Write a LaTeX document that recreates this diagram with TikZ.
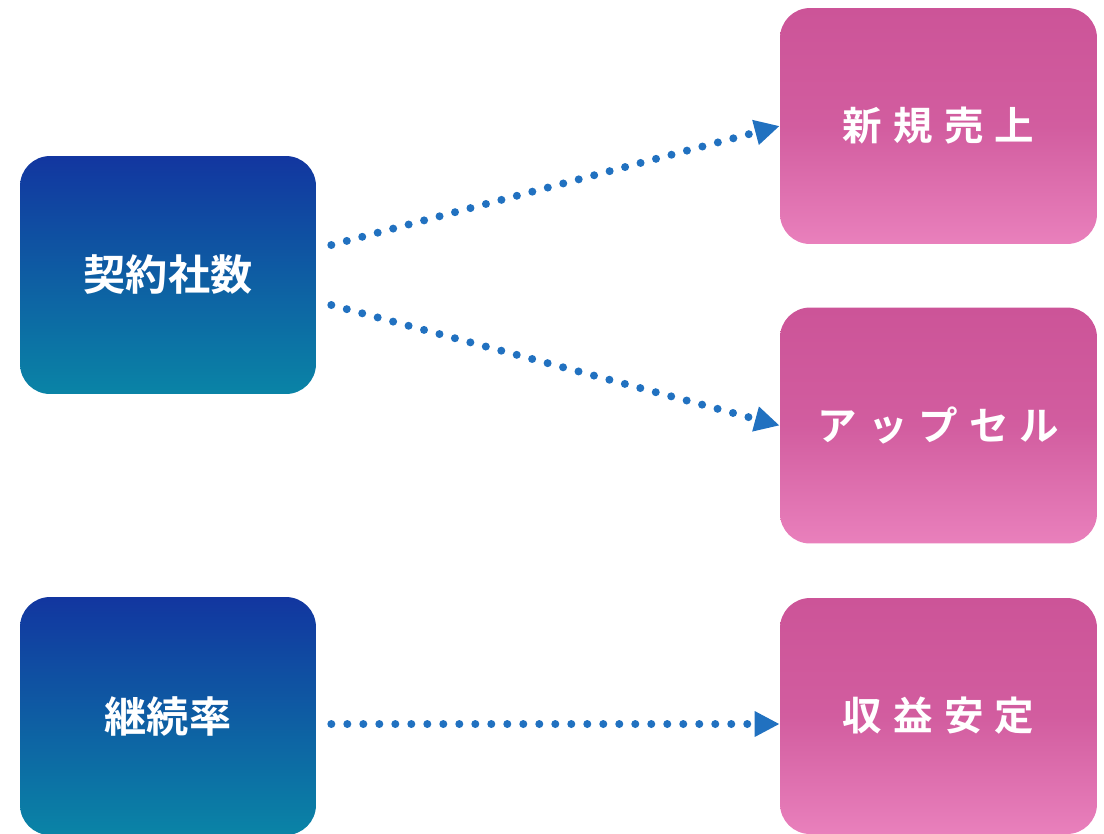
\documentclass[tikz,border=0pt]{standalone}
\usepackage{fontspec}
\newfontfamily\jpbold{Noto Sans CJK JP Bold}
\newfontfamily\jpspaced{Noto Sans CJK JP Bold}[LetterSpace=28]
\usetikzlibrary{arrows.meta}
\definecolor{bluetop}{RGB}{18,54,160}
\definecolor{bluebot}{RGB}{10,132,166}
\definecolor{pinktop}{RGB}{204,84,152}
\definecolor{pinkbot}{RGB}{233,128,188}
\definecolor{linkblue}{RGB}{33,113,192}
\begin{document}
\begin{tikzpicture}[x=0.02cm, y=-0.02cm,
	cause/.style={rounded corners=0.6cm, top color=bluetop, bottom color=bluebot, minimum width=5.92cm, minimum height=4.76cm, inner sep=0pt, text=white, font=\jpbold\fontsize{24pt}{27pt}\selectfont},
	effect/.style={rounded corners=0.6cm, top color=pinktop, bottom color=pinkbot, middle color=pinktop!80!pinkbot, minimum width=6.34cm, minimum height=4.72cm, inner sep=0pt, text=white, font=\jpspaced\fontsize{22.5pt}{25pt}\selectfont},
	link/.style={draw=linkblue, line width=0.16cm, line cap=round, dash pattern=on 0pt off 0.32cm, -{Triangle[length=0.5cm, width=0.48cm, fill=linkblue]}}]
	\useasboundingbox (0,0) rectangle (1104,833);
	\node (C1) at (168, 275)	[cause]		{契約社数};
	\node (C2) at (168, 716)	[cause]		{継続率};
	\node (E1) at (938.5, 126)	[effect]	{新規売上};
	\node (E2) at (938.5, 425.5)	[effect]	{アップセル};
	\node (E3) at (938.5, 716)	[effect]	{収益安定};
	\draw[link] ([xshift=0.3cm, yshift=0.6cm]C1.east) -- (E1.west);
	\draw[link] ([xshift=0.3cm, yshift=-0.6cm]C1.east) -- (E2.west);
	\draw[link] ([xshift=0.3cm, yshift=-0.16cm]C2.east) -- ([yshift=-0.16cm]E3.west);
\end{tikzpicture}
\end{document}
